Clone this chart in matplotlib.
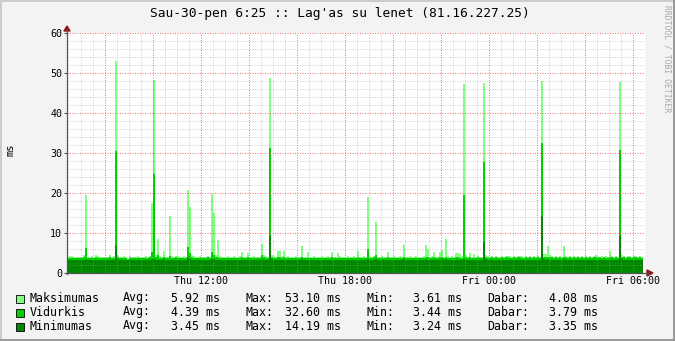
import numpy as np
import matplotlib
matplotlib.use("Agg")
import matplotlib.pyplot as plt
from matplotlib.lines import Line2D
from matplotlib.patches import Polygon, Rectangle

# 5 minučių žingsnis, pradžia Thu 06:25 (valandos nuo Thu 00:00)
start_hour = 6 + 25 / 60
step_hour = 5 / 60

# Maksimumas (ms)
max_ms = [
    4.1, 4.2, 4.2, 4.0, 3.9, 4.1, 4.0, 3.9, 4.4, 19.6, 4.1, 4.0, 4.3, 4.1, 4.4, 4.2, 4.1, 4.0, 3.9, 4.0, 4.1, 4.4, 4.0, 4.2,
    53.1, 4.6, 4.1, 4.0, 4.2, 4.1, 3.6, 4.2, 4.0, 4.1, 4.0, 4.2, 4.1, 4.1, 4.0, 4.2, 4.0, 4.3, 17.5, 48.3, 4.4, 8.5, 4.2, 4.1,
    5.5, 4.1, 4.0, 14.3, 4.2, 4.0, 4.3, 4.2, 4.1, 4.0, 4.2, 4.1, 20.8, 16.5, 4.4, 4.2, 4.1, 4.0, 4.2, 4.1, 4.0, 4.1, 4.3, 4.0,
    19.8, 15.0, 4.4, 8.2, 4.2, 4.1, 4.0, 4.1, 4.2, 4.1, 4.0, 4.2, 4.1, 4.0, 4.2, 5.3, 4.1, 4.0, 4.9, 4.1, 4.0, 4.2, 4.1, 4.0,
    4.1, 7.3, 4.4, 4.2, 4.1, 48.8, 4.5, 4.2, 4.1, 5.5, 5.5, 4.2, 5.4, 4.0, 4.2, 4.1, 4.0, 4.1, 4.2, 4.0, 4.1, 6.7, 4.1, 4.0,
    5.3, 4.1, 4.0, 4.2, 4.1, 4.0, 4.1, 4.2, 4.0, 4.1, 4.2, 4.0, 5.2, 4.1, 4.0, 5.0, 4.2, 4.1, 4.0, 4.1, 4.2, 4.0, 4.1, 4.2,
    4.1, 5.5, 4.0, 4.1, 4.2, 4.0, 19.0, 4.2, 4.1, 4.3, 12.8, 4.1, 4.0, 4.2, 4.1, 4.0, 5.2, 4.1, 4.0, 4.2, 4.1, 4.0, 4.2, 4.1,
    7.0, 4.1, 4.0, 4.2, 4.1, 4.0, 4.2, 4.1, 4.0, 4.1, 4.2, 7.0, 6.0, 4.1, 4.2, 5.2, 4.1, 4.0, 5.2, 5.7, 4.1, 8.5, 4.2, 4.1,
    4.2, 4.1, 5.0, 5.0, 4.7, 4.2, 47.3, 4.4, 4.1, 4.9, 4.1, 4.7, 4.1, 4.2, 4.1, 4.0, 47.5, 4.4, 4.2, 4.1, 4.2, 4.1, 4.2, 4.1,
    4.1, 4.2, 4.1, 4.2, 4.3, 4.2, 4.1, 4.2, 4.1, 4.2, 4.3, 4.2, 4.1, 4.2, 4.1, 4.2, 4.1, 4.2, 4.1, 4.2, 4.1, 48.0, 4.7, 4.8,
    6.8, 4.4, 4.2, 4.1, 4.2, 4.1, 4.2, 4.1, 6.8, 4.2, 4.1, 4.2, 4.1, 4.2, 4.1, 4.2, 4.1, 4.2, 4.1, 4.2, 4.1, 4.2, 4.1, 4.2,
    4.6, 4.2, 4.1, 4.2, 4.1, 4.2, 4.1, 5.5, 4.2, 4.1, 4.2, 4.1, 47.8, 4.4, 4.2, 4.1, 4.3, 4.2, 4.1, 4.2, 4.3, 4.1, 4.2, 4.08,
]

# Vidurkis (ms)
avg_ms = [
    3.8, 3.8, 3.7, 3.8, 3.7, 3.8, 3.8, 3.7, 3.9, 6.2, 3.8, 3.7, 3.8, 3.8, 3.9, 3.8, 3.7, 3.8, 3.7, 3.7, 3.8, 3.9, 3.8, 3.7,
    30.5, 4.1, 3.8, 3.7, 3.8, 3.8, 3.5, 3.8, 3.7, 3.8, 3.7, 3.8, 3.8, 3.7, 3.8, 3.8, 3.7, 3.9, 5.2, 24.8, 3.9, 4.4, 3.8, 3.7,
    4.0, 3.8, 3.7, 4.3, 3.8, 3.7, 3.9, 3.8, 3.8, 3.7, 3.8, 3.8, 6.5, 5.0, 3.9, 3.8, 3.7, 3.8, 3.8, 3.7, 3.7, 3.8, 3.9, 3.7,
    5.2, 4.6, 3.9, 4.1, 3.8, 3.7, 3.8, 3.7, 3.8, 3.8, 3.7, 3.8, 3.7, 3.7, 3.8, 3.9, 3.8, 3.7, 3.9, 3.8, 3.7, 3.8, 3.8, 3.7,
    3.8, 4.6, 3.9, 3.8, 3.8, 31.3, 4.0, 3.8, 3.7, 3.9, 3.9, 3.8, 3.9, 3.8, 3.8, 3.7, 3.8, 3.7, 3.8, 3.7, 3.8, 4.0, 3.8, 3.7,
    3.8, 3.8, 3.7, 3.8, 3.8, 3.7, 3.8, 3.8, 3.7, 3.8, 3.8, 3.7, 3.9, 3.8, 3.7, 3.8, 3.8, 3.7, 3.7, 3.8, 3.8, 3.7, 3.8, 3.8,
    3.7, 3.9, 3.7, 3.8, 3.8, 3.7, 6.0, 3.8, 3.8, 3.9, 4.5, 3.8, 3.7, 3.8, 3.8, 3.7, 3.9, 3.8, 3.7, 3.8, 3.8, 3.7, 3.8, 3.8,
    4.0, 3.8, 3.7, 3.8, 3.8, 3.7, 3.8, 3.8, 3.7, 3.8, 3.8, 4.1, 3.9, 3.8, 3.8, 3.9, 3.8, 3.7, 3.9, 3.9, 3.8, 4.1, 3.8, 3.8,
    3.8, 3.8, 3.9, 3.9, 3.8, 3.8, 19.6, 3.9, 3.8, 3.9, 3.8, 3.8, 3.8, 3.9, 3.8, 3.7, 27.8, 3.9, 3.8, 3.8, 3.9, 3.8, 3.9, 3.8,
    3.8, 3.9, 3.8, 3.9, 3.9, 3.8, 3.8, 3.9, 3.8, 3.9, 3.9, 3.8, 3.8, 3.9, 3.8, 3.9, 3.8, 3.9, 3.8, 3.9, 3.8, 32.6, 4.0, 3.9,
    4.1, 3.9, 3.9, 3.8, 3.9, 3.8, 3.9, 3.8, 4.0, 3.9, 3.8, 3.9, 3.8, 3.9, 3.8, 3.9, 3.8, 3.9, 3.8, 3.9, 3.8, 3.9, 3.8, 3.9,
    3.9, 3.8, 3.9, 3.8, 3.9, 3.8, 3.8, 3.9, 3.9, 3.8, 3.9, 3.8, 30.8, 4.0, 3.9, 3.8, 3.9, 3.9, 3.8, 3.9, 3.9, 3.8, 3.9, 3.79,
]

# Minimumas (ms)
min_ms = [
    3.35, 3.3, 3.35, 3.3, 3.3, 3.35, 3.3, 3.3, 3.35, 3.4, 3.3, 3.3, 3.35, 3.3, 3.3, 3.35, 3.3, 3.3, 3.35, 3.3, 3.3, 3.35, 3.3, 3.3,
    6.7, 3.4, 3.3, 3.3, 3.35, 3.3, 3.3, 3.35, 3.3, 3.3, 3.35, 3.3, 3.3, 3.35, 3.3, 3.3, 3.35, 3.3, 3.4, 3.6, 3.35, 3.3, 3.3, 3.35,
    3.4, 3.3, 3.3, 3.35, 3.3, 3.3, 3.35, 3.3, 3.3, 3.35, 3.3, 3.3, 4.0, 3.5, 3.35, 3.3, 3.3, 3.35, 3.3, 3.3, 3.35, 3.3, 3.3, 3.35,
    3.4, 3.4, 3.35, 3.3, 3.3, 3.35, 3.3, 3.3, 3.35, 3.3, 3.24, 3.35, 3.3, 3.3, 3.35, 3.3, 3.3, 3.35, 3.3, 3.3, 3.35, 3.3, 3.3, 3.35,
    3.3, 3.5, 3.35, 3.3, 3.35, 9.3, 3.5, 3.35, 3.3, 3.35, 3.3, 3.3, 3.35, 3.3, 3.3, 3.35, 3.3, 3.3, 3.35, 3.3, 3.3, 3.4, 3.3, 3.3,
    3.35, 3.3, 3.3, 3.35, 3.3, 3.3, 3.35, 3.3, 3.3, 3.35, 3.3, 3.3, 3.35, 3.3, 3.3, 3.35, 3.3, 3.3, 3.35, 3.3, 3.3, 3.35, 3.3, 3.3,
    3.3, 3.35, 3.3, 3.3, 3.35, 3.3, 3.45, 3.3, 3.35, 3.3, 3.4, 3.3, 3.35, 3.3, 3.3, 3.35, 3.3, 3.3, 3.35, 3.3, 3.3, 3.35, 3.3, 3.3,
    3.4, 3.3, 3.35, 3.3, 3.3, 3.35, 3.3, 3.3, 3.35, 3.3, 3.3, 3.4, 3.35, 3.3, 3.3, 3.35, 3.3, 3.3, 3.35, 3.4, 3.3, 3.45, 3.3, 3.35,
    3.3, 3.35, 3.3, 3.35, 3.3, 3.35, 3.5, 3.35, 3.3, 3.35, 3.3, 3.35, 3.3, 3.35, 3.3, 3.35, 7.8, 3.4, 3.35, 3.3, 3.35, 3.3, 3.35, 3.3,
    3.35, 3.3, 3.35, 3.3, 3.35, 3.3, 3.35, 3.3, 3.35, 3.3, 3.35, 3.3, 3.35, 3.3, 3.35, 3.3, 3.35, 3.3, 3.35, 3.3, 3.35, 14.19, 3.45, 3.35,
    3.4, 3.35, 3.3, 3.35, 3.3, 3.35, 3.3, 3.35, 3.4, 3.3, 3.35, 3.3, 3.35, 3.3, 3.35, 3.3, 3.35, 3.3, 3.35, 3.3, 3.35, 3.3, 3.35, 3.3,
    3.35, 3.3, 3.35, 3.3, 3.35, 3.3, 3.35, 3.3, 3.35, 3.3, 3.35, 3.3, 9.3, 3.4, 3.35, 3.3, 3.35, 3.3, 3.35, 3.3, 3.35, 3.3, 3.35, 3.35,
]

series_names = ["Maksimumas", "Vidurkis", "Minimumas"]
series_colors = ["#80FF80", "#00D000", "#008800"]
stat_avg = [5.92, 4.39, 3.45]
stat_max = [53.10, 32.60, 14.19]
stat_min = [3.61, 3.44, 3.24]
stat_now = [4.08, 3.79, 3.35]

x_ticks = [12, 18, 24, 30]
x_tick_labels = ["Thu 12:00", "Thu 18:00", "Fri 00:00", "Fri 06:00"]
y_ticks = [0, 10, 20, 30, 40, 50, 60]

title = "Sau-30-pen 6:25 :: Lag'as su lenet (81.16.227.25)"

W, H = 675, 341
MONO = "DejaVu Sans Mono"


def fx(px):
    return px / W


def fy(py):
    return 1 - py / H


fig = plt.figure(figsize=(W / 100, H / 100), dpi=100, facecolor="#F3F3F3")
ax = fig.add_axes([fx(67), fy(273), (645 - 67) / W, 240 / H])
ax.set_facecolor("white")

edges = start_hour + np.arange(len(max_ms) + 1) * step_hour
for vals, col in zip([max_ms, avg_ms, min_ms], series_colors):
    ax.stairs(vals, edges, fill=True, color=col, linewidth=0, zorder=1)

ax.set_xlim(start_hour, start_hour + 578 / 24)
ax.set_ylim(0, 60)

# tinklelis virš duomenų, kaip rrdtool (taškuotas, pusiau permatomas)
grid_kw = dict(lw=0.72, ls=(0, (1, 1.5)))
for y in np.arange(2, 61, 2):
    if y % 10:
        ax.axhline(y, color="#A0A0A0", alpha=0.5, zorder=3, **grid_kw)
for h in np.arange(7, 31, 0.5):
    if h % 2:
        ax.axvline(h, color="#A0A0A0", alpha=0.5, zorder=3, **grid_kw)
for y in np.arange(10, 61, 10):
    ax.axhline(y, color="#F05050", alpha=0.8, zorder=4, **grid_kw)
for h in np.arange(8, 31, 2):
    ax.axvline(h, color="#F05050", alpha=0.8, zorder=4, **grid_kw)

for s in ax.spines.values():
    s.set_visible(False)

ax.set_xticks(x_ticks)
ax.set_xticklabels(x_tick_labels, fontfamily=MONO, fontsize=7.2)
ax.set_yticks(y_ticks)
ax.set_yticklabels([str(v) for v in y_ticks], fontfamily=MONO, fontsize=7.2)
ax.tick_params(axis="x", length=0, pad=2.5)
ax.tick_params(axis="y", length=2, width=0.8, color="#555555", pad=1.5)

# ašys ir rodyklės
axis_col = "#555555"
arrow_col = "#8B1A1A"
fig.add_artist(Line2D([fx(67), fx(67)], [fy(274), fy(30)], color=axis_col, lw=0.9,
                      transform=fig.transFigure))
fig.add_artist(Line2D([fx(66), fx(648)], [fy(273), fy(273)], color=axis_col, lw=0.9,
                      transform=fig.transFigure))
fig.add_artist(Polygon([(fx(64), fy(31)), (fx(70), fy(31)), (fx(67), fy(26))], closed=True,
                       color=arrow_col, transform=fig.transFigure))
fig.add_artist(Polygon([(fx(647), fy(270)), (fx(647), fy(276)), (fx(653), fy(273))], closed=True,
                       color=arrow_col, transform=fig.transFigure))

fig.text(fx(340), fy(13), title, ha="center", va="center", fontfamily=MONO, fontsize=9.3)
fig.text(fx(10), fy(150), "ms", ha="center", va="center", rotation=90, fontfamily=MONO, fontsize=7.5)
fig.text(fx(667), fy(5), "RRDTOOL / TOBI OETIKER", ha="center", va="top", rotation=-90,
         fontfamily=MONO, fontsize=5.8, color="#A8A8A8")

# legenda
row_y = [298, 312, 326]
for i, name in enumerate(series_names):
    y = fy(row_y[i])
    fig.add_artist(Rectangle((fx(15.5), fy(row_y[i] + 4.5)), 8 / W, 8 / H, facecolor=series_colors[i],
                             edgecolor="#000000", lw=0.6, transform=fig.transFigure))
    kw = dict(va="center", fontfamily=MONO, fontsize=8.4)
    fig.text(fx(30), y, name, ha="left", **kw)
    fig.text(fx(123), y, "Avg:", ha="left", **kw)
    fig.text(fx(220), y, f"{stat_avg[i]:.2f} ms", ha="right", **kw)
    fig.text(fx(245), y, "Max:", ha="left", **kw)
    fig.text(fx(341), y, f"{stat_max[i]:.2f} ms", ha="right", **kw)
    fig.text(fx(366), y, "Min:", ha="left", **kw)
    fig.text(fx(462), y, f"{stat_min[i]:.2f} ms", ha="right", **kw)
    fig.text(fx(487), y, "Dabar:", ha="left", **kw)
    fig.text(fx(598), y, f"{stat_now[i]:.2f} ms", ha="right", **kw)

# rėmelis
fig.add_artist(Line2D([fx(0.5), fx(0.5)], [fy(0), fy(H)], color="#CBCBCB", lw=1.4, transform=fig.transFigure))
fig.add_artist(Line2D([fx(0), fx(W)], [fy(0.5), fy(0.5)], color="#CBCBCB", lw=1.4, transform=fig.transFigure))
fig.add_artist(Line2D([fx(W - 1), fx(W - 1)], [fy(0), fy(H)], color="#999999", lw=1.4, transform=fig.transFigure))
fig.add_artist(Line2D([fx(0), fx(W)], [fy(H - 1), fy(H - 1)], color="#999999", lw=1.4, transform=fig.transFigure))

fig.savefig("out.png", dpi=100, facecolor=fig.get_facecolor())
